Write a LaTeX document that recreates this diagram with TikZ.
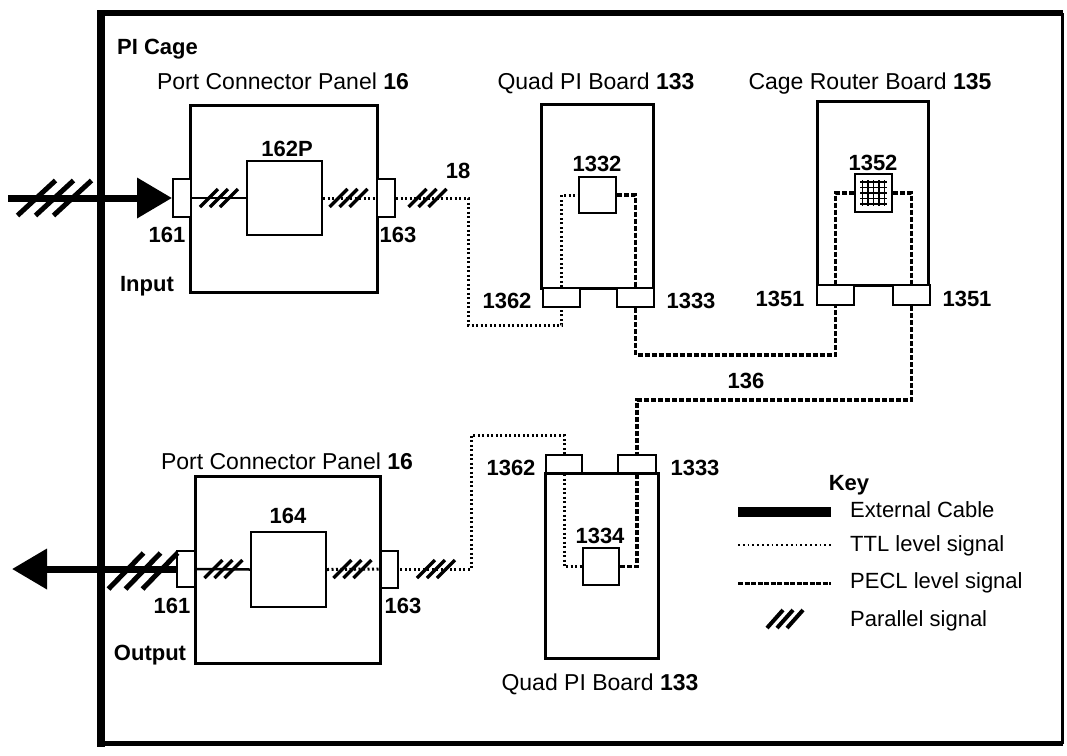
\documentclass[tikz,border=0pt]{standalone}
\usepackage{fontspec}
\setmainfont{Liberation Sans}
\usetikzlibrary{arrows.meta}
\newcommand\parmarks[6]{%
  \foreach \k in {-1,0,1}{\draw[line width=#6, line cap=butt] ({#1+\k*#5-#4/2},{#2+#3/2}) -- ++(#4,-#3);}}
\begin{document}
\begin{tikzpicture}[x=1pt,y=-1pt,
  font=\fontsize{22}{26}\selectfont,
  bigbox/.style={draw, line width=3pt, rectangle, inner sep=0pt},
  chip/.style={draw, line width=2pt, rectangle, inner sep=0pt, fill=white},
  conn/.style={draw, line width=2pt, rectangle, inner sep=0pt, fill=white},
  t/.style={anchor=base, yshift=-8pt, inner sep=0pt},
  tw/.style={anchor=base west, yshift=-8pt, inner sep=0pt},
  title/.style={t, font=\fontsize{23}{27}\selectfont},
  b/.style={t, font=\fontsize{22}{26}\selectfont\bfseries},
  ttl/.style={line width=3pt, dash pattern=on 2pt off 2.5pt},
  pecl/.style={line width=3.2pt, dash pattern=on 5pt off 2pt},
  solidsig/.style={line width=2.5pt},
  cable/.style={line width=7pt},
]
\useasboundingbox (0,0) rectangle (1067,755);
% cage frame
\draw[line width=6pt] (97,13) -- (1063,13);
\draw[line width=3pt] (1062,13) -- (1062,744);
\draw[line width=5pt] (97,743) -- (1063,743);
\draw[line width=8pt] (101,10) -- (101,747);
\node[tw, font=\fontsize{22}{26}\selectfont\bfseries] (cage) at (117,46) {PI Cage};

% ---------- top port connector panel ----------
\node[title] (pcpTt) at (283,81) {Port Connector Panel \textbf{16}};
\node[bigbox, minimum width=187pt, minimum height=187pt] (pcpT) at (283.5,198.5) {};
\node[chip, minimum width=75pt, minimum height=74pt] (p162) at (284.5,198) {};
\node[b] (l162) at (287,148) {162P};
\node[conn, minimum width=18pt, minimum height=38pt] (c161t) at (182,198) {};
\node[conn, minimum width=18pt, minimum height=38pt] (c163t) at (386,198) {};
\node[b] (l161t) at (167,234) {161};
\node[b] (l163t) at (398,234) {163};
\node[b] (l18t) at (458,170) {18};
\node[b] (lin) at (147,283) {Input};

% ---------- top quad PI board ----------
\node[title] (qpiTt) at (596,81) {Quad PI Board \textbf{133}};
\node[bigbox, minimum width=112pt, minimum height=184pt] (qpiT) at (597,196) {};
\node[chip, minimum width=37pt, minimum height=36pt] (b1332) at (597.5,195) {};
\node[b] (l1332) at (597,163) {1332};
\node[conn, minimum width=37pt, minimum height=19pt] (c1362t) at (561.5,297.5) {};
\node[conn, minimum width=37pt, minimum height=19pt] (c1333t) at (635.5,297.5) {};
\node[b] (l1362t) at (507,300) {1362};
\node[b] (l1333t) at (691,300) {1333};

% ---------- cage router board ----------
\node[title] (crbt) at (870,81) {Cage Router Board \textbf{135}};
\node[bigbox, minimum width=111pt, minimum height=184pt] (crb) at (872.5,193) {};
\node[chip, minimum width=37pt, minimum height=38pt] (b1352) at (873.5,193) {};
\foreach \i in {-2,...,2}{
  \draw[line width=1.3pt] ({873.5+\i*5.5},180) -- ({873.5+\i*5.5},206);
  \draw[line width=1.3pt] (860,{193+\i*5.5}) -- (887,{193+\i*5.5});
}
\node[b] (l1352) at (873,162) {1352};
\node[conn, minimum width=37pt, minimum height=20pt] (c1351a) at (835.5,295) {};
\node[conn, minimum width=37pt, minimum height=20pt] (c1351b) at (911.5,295) {};
\node[b] (l1351a) at (780,298) {1351};
\node[b] (l1351b) at (967,298) {1351};
\node[b] (l136) at (746,380) {136};

% ---------- lower quad PI board ----------
\node[bigbox, minimum width=113pt, minimum height=185pt] (qpiB) at (601.5,565.5) {};
\node[title] (qpiBt) at (600,682) {Quad PI Board \textbf{133}};
\node[chip, minimum width=36pt, minimum height=37pt] (b1334) at (601,566.5) {};
\node[b] (l1334) at (600,535) {1334};
\node[conn, minimum width=36pt, minimum height=18pt] (c1362b) at (564,464) {};
\node[conn, minimum width=38pt, minimum height=18pt] (c1333b) at (637,464) {};
\node[b] (l1362b) at (511,467) {1362};
\node[b] (l1333b) at (695,467) {1333};

% ---------- lower port connector panel ----------
\node[title] (pcpBt) at (287,461) {Port Connector Panel \textbf{16}};
\node[bigbox, minimum width=185pt, minimum height=187pt] (pcpB) at (287.5,569.5) {};
\node[chip, minimum width=75pt, minimum height=75pt] (p164) at (288.5,569.5) {};
\node[b] (l164) at (288,515) {164};
\node[conn, minimum width=18pt, minimum height=36pt] (c161b) at (186,569) {};
\node[conn, minimum width=17pt, minimum height=37pt] (c163b) at (389.5,569) {};
\node[b] (l161b) at (172,605) {161};
\node[b] (l163b) at (403,605) {163};
\node[b] (lout) at (150,652) {Output};

% ---------- connectors ----------
\coordinate (inStart) at (8,198);
\draw[cable, -{Triangle[length=35pt,width=39pt]}] (inStart) -- (c161t.west);
\parmarks{54.5}{198}{35}{38}{18}{5pt}
\draw[solidsig] (c161t.east) -- (p162.west);
\parmarks{219}{198}{18}{18}{10}{3.5pt}
\draw[ttl] (p162.east) -- (c163t.west);
\parmarks{348.5}{198}{18}{18}{10}{3.5pt}
\draw[ttl] (c163t.east) -| (468,325) -| (c1362t.south);
\parmarks{427.5}{198}{18}{18}{10}{3.5pt}
\draw[ttl] (c1362t.north) |- (b1332.west);
\draw[pecl] (b1332.east) -| (c1333t.north);
\draw[pecl] (c1333t.south) |- (735,355) -| (c1351a.south);
\draw[pecl] (b1352.west) -| (c1351a.north);
\draw[pecl] (b1352.east) -| (c1351b.north);
\draw[pecl] (c1351b.south) |- (770,400) -| (c1333b.north);
\draw[pecl] (c1333b.south) |- (b1334.east);
\draw[ttl] (c1362b.south) |- (b1334.west);
\draw[ttl] (c1362b.north) |- (471,435) |- (c163b.east);
\parmarks{436}{569}{18}{18}{10}{3.5pt}
\draw[ttl] (p164.east) -- (c163b.west);
\parmarks{352.5}{569}{18}{18}{10}{3.5pt}
\draw[solidsig] (c161b.east) -- (p164.west);
\parmarks{223.5}{569}{18}{18}{10}{3.5pt}
\coordinate (outEnd) at (12,569);
\draw[cable, -{Triangle[length=35pt,width=39pt]}] (c161b.west) -- (outEnd);
\parmarks{143}{571}{36}{35}{17}{5pt}

% ---------- key ----------
\node[t, font=\fontsize{22}{26}\selectfont\bfseries] (key) at (849,482) {Key};
\coordinate (kA1) at (738,512); \coordinate (kA2) at (831,512);
\draw[line width=10pt] (kA1) -- (kA2);
\node[tw] (kAt) at (850,509) {External Cable};
\coordinate (kB1) at (738,545); \coordinate (kB2) at (831,545);
\draw[line width=2.5pt, dash pattern=on 1.8pt off 3pt] (kB1) -- (kB2);
\node[tw] (kBt) at (850,543) {TTL level signal};
\coordinate (kC1) at (738,583); \coordinate (kC2) at (831,583);
\draw[line width=3pt, dash pattern=on 5pt off 1.5pt] (kC1) -- (kC2);
\node[tw] (kCt) at (850,580) {PECL level signal};
\parmarks{785}{619}{18}{16}{10}{4pt}
\node[tw] (kDt) at (850,618) {Parallel signal};
\end{tikzpicture}
\end{document}
